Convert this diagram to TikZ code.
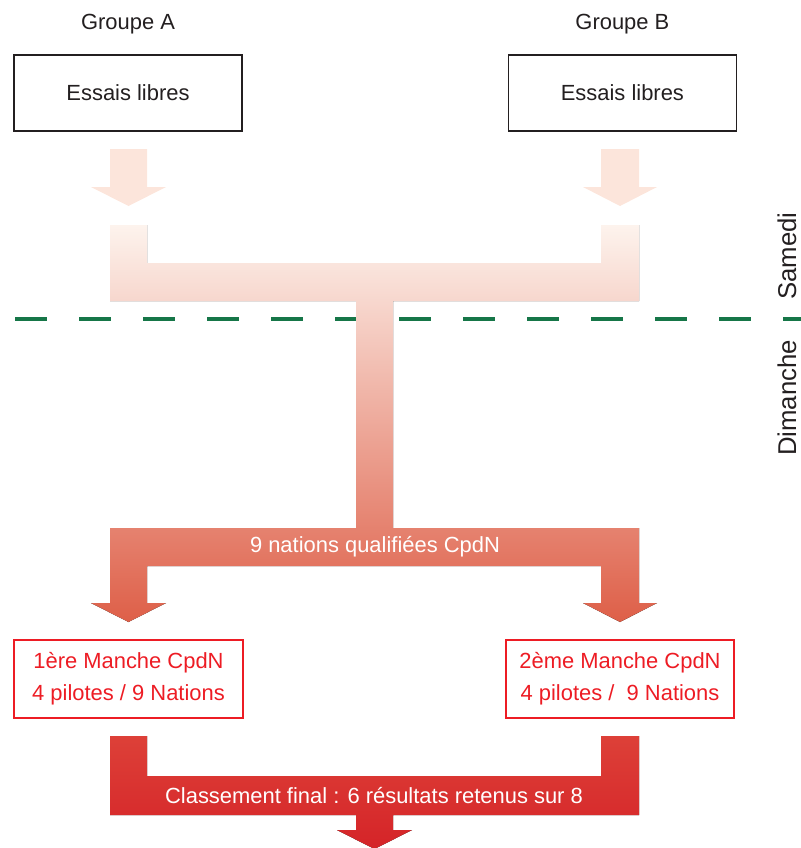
\documentclass[tikz,border=0pt]{standalone}
\usepackage{fontspec}
\setmainfont{Liberation Sans}
\usepackage{tikz}
\usetikzlibrary{positioning}
\definecolor{mydark}{RGB}{35,31,32}
\definecolor{myred}{RGB}{237,28,36}
\definecolor{mygreen}{RGB}{22,118,72}
\definecolor{palepink}{RGB}{252,229,219}
\definecolor{flowtop}{RGB}{253,243,237}
\definecolor{flowbot}{RGB}{222,95,72}
\definecolor{redtop}{RGB}{221,64,56}
\definecolor{redbot}{RGB}{213,36,40}
\tikzset{
  essbox/.style={rectangle, draw=mydark, line width=0.9pt,
    minimum width=5.7cm, minimum height=1.9cm, text=mydark,
    font=\fontsize{15.6}{20}\selectfont},
  mancheblock/.style={rectangle, draw=myred, line width=1.4pt,
    minimum width=5.72cm, minimum height=1.95cm, align=center, text=myred,
    font=\fontsize{15.6}{22.8}\selectfont},
  grouplabel/.style={text=mydark, font=\fontsize{15.6}{20}\selectfont},
  daylabel/.style={text=mydark, rotate=90, anchor=base, inner sep=0pt,
    font=\fontsize{18.3}{22}\selectfont},
  barlabel/.style={text=white, font=\fontsize{15.6}{20}\selectfont},
  daysep/.style={mygreen, line width=2.2pt, dash pattern=on 22.76pt off 22.76pt},
  lightflow/.style={top color=flowtop, bottom color=flowbot},
  redflow/.style={top color=redtop, bottom color=redbot}
}
\begin{document}
\begin{tikzpicture}[x=0.025cm, y=-0.025cm, node distance=0.38cm and 6.625cm]
  \useasboundingbox (0,0) rectangle (801,848);

  \draw[daysep] (15,319) -- (801,319);
  \node[daylabel] (sam) at (796,256) {Samedi};
  \node[daylabel] (dim) at (796,398) {Dimanche};

  \node[essbox] (essA) at (128,93) {Essais libres};
  \node[essbox, right=6.625cm of essA] (essB) {Essais libres};
  \node[grouplabel, above=0.38cm of essA] (grpA) {Groupe A};
  \node[grouplabel, above=0.38cm of essB] (grpB) {Groupe B};

  \fill[palepink] (110,149) -- (147,149) -- (147,187) -- (166,187) -- (128.5,206)
    -- (91,187) -- (110,187) -- cycle;
  \fill[palepink] (601,149) -- (639,149) -- (639,187) -- (657,187) -- (620,206)
    -- (583,187) -- (601,187) -- cycle;

  \fill[lightflow] (110,225) -- (147,225) -- (147,263) -- (601,263) -- (601,225)
    -- (639,225) -- (639,301) -- (393,301) -- (393,528) -- (639,528) -- (639,603)
    -- (657,603) -- (620,622) -- (583,603) -- (601,603) -- (601,566) -- (147,566)
    -- (147,603) -- (166,603) -- (128.5,622) -- (91,603) -- (110,603) -- (110,528)
    -- (356,528) -- (356,301) -- (110,301) -- cycle;
  \node[barlabel] (qualif) at (375,547) {9 nations qualifiées CpdN};

  \node[mancheblock] (m1) at (128.5,679) {1ère Manche CpdN\\4 pilotes / 9 Nations};
  \node[mancheblock] (m2) at (620,679) {2ème Manche CpdN\\4 pilotes /\ \ 9 Nations};

  \fill[redflow] (110,736) -- (147,736) -- (147,776) -- (601,776) -- (601,736)
    -- (639,736) -- (639,815) -- (393,815) -- (393,830) -- (412,830) -- (374.5,849)
    -- (337,830) -- (356,830) -- (356,815) -- (110,815) -- cycle;
  \node[barlabel] (final) at (374,796) {Classement final : 6 résultats retenus sur 8};
\end{tikzpicture}
\end{document}
